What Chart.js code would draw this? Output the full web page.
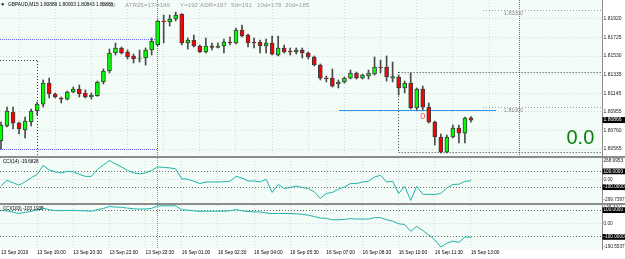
<!DOCTYPE html>
<html>
<head>
<meta charset="utf-8">
<title>GBPAUD,M15</title>
<script src="https://cdn.jsdelivr.net/npm/chart.js@4.4.1/dist/chart.umd.min.js"></script>
<style>
 html,body{margin:0;padding:0;background:#fff;overflow:hidden}
 #wrap{position:relative;width:625px;height:259px;background:#fff}
 canvas{position:absolute;left:0;display:block}
 .sep{position:absolute;left:0;width:625px;height:2px;background:#8c8c8c}
</style>
</head>
<body>
<div id="wrap">
 <canvas id="cMain" style="top:0;width:625px;height:156px" width="625" height="156"></canvas>
 <div class="sep" style="top:156px"></div>
 <canvas id="cC14" style="top:158px;width:625px;height:45px" width="625" height="45"></canvas>
 <div class="sep" style="top:203px"></div>
 <canvas id="cC100" style="top:205px;width:625px;height:54px" width="625" height="54"></canvas>
</div>
<script>
// ---------------- data ----------------
const symbolTitle = 'GBPAUD,M15 1.80889 1.80903 1.80843 1.80866';
const infoTexts = ['T=19', 'ATR25=17/=149', 'Y=192', 'ADR=187', '5d=191', '10d=179', '20d=185'];
const timeLabels = ['13 Sep 2019','13 Sep 19:00','13 Sep 20:30','13 Sep 22:00','13 Sep 23:30','16 Sep 01:00','16 Sep 02:30','16 Sep 04:00','16 Sep 05:30','16 Sep 07:00','16 Sep 08:30','16 Sep 10:00','16 Sep 11:30','16 Sep 13:00'];
const labelStep = 6; // candles between time labels

const open = [1.80652,1.80804,1.80949,1.80835,1.80763,1.80846,1.80963,1.81032,1.81250,1.81136,
1.81095,1.81084,1.81157,1.81188,1.81147,1.81105,1.81119,1.81261,1.81375,1.81562,
1.81614,1.81572,1.81531,1.81500,1.81510,1.81593,1.81645,1.81894,1.81884,1.81915,
1.81967,1.81666,1.81697,1.81635,1.81572,1.81635,1.81619,1.81635,1.81676,1.81666,
1.81801,1.81749,1.81676,1.81676,1.81635,1.81666,1.81541,1.81614,1.81583,1.81572,
1.81593,1.81562,1.81520,1.81437,1.81302,1.81302,1.81240,1.81261,1.81302,1.81354,
1.81302,1.81323,1.81344,1.81417,1.81417,1.81302,1.81313,1.81199,1.81250,1.80991,
1.81188,1.81001,1.80846,1.80690,1.80534,1.80690,1.80783,1.80731,1.80889];
const high = [1.80846,1.81001,1.81001,1.80846,1.80898,1.80981,1.81053,1.81282,1.81302,1.81147,
1.81105,1.81167,1.81209,1.81230,1.81178,1.81147,1.81271,1.81396,1.81603,1.81666,
1.81624,1.81593,1.81551,1.81593,1.81614,1.81718,1.81904,1.81956,1.81956,1.81987,
1.81970,1.81718,1.81749,1.81645,1.81718,1.81666,1.81666,1.81707,1.81728,1.81821,
1.81852,1.81759,1.81718,1.81697,1.81707,1.81738,1.81738,1.81645,1.81614,1.81614,
1.81614,1.81572,1.81531,1.81448,1.81323,1.81396,1.81282,1.81313,1.81385,1.81365,
1.81344,1.81385,1.81520,1.81489,1.81531,1.81468,1.81333,1.81271,1.81354,1.81199,
1.81219,1.81043,1.80856,1.80721,1.80711,1.80814,1.80814,1.80898,1.80903];
const low = [1.80565,1.80794,1.80773,1.80721,1.80680,1.80804,1.80918,1.81001,1.81095,1.81095,
1.81043,1.81074,1.81150,1.81105,1.81095,1.81084,1.81112,1.81240,1.81354,1.81541,
1.81551,1.81500,1.81458,1.81468,1.81437,1.81541,1.81635,1.81666,1.81842,1.81894,
1.81645,1.81603,1.81624,1.81565,1.81562,1.81593,1.81614,1.81562,1.81645,1.81655,
1.81728,1.81624,1.81614,1.81562,1.81562,1.81541,1.81531,1.81562,1.81541,1.81551,
1.81510,1.81500,1.81427,1.81282,1.81261,1.81209,1.81199,1.81250,1.81292,1.81292,
1.81292,1.81292,1.81333,1.81354,1.81271,1.81261,1.81126,1.81147,1.80981,1.80970,
1.80970,1.80835,1.80607,1.80524,1.80524,1.80680,1.80628,1.80628,1.80843];
const close = [1.80814,1.80960,1.80835,1.80773,1.80856,1.80960,1.81032,1.81250,1.81136,1.81105,
1.81084,1.81157,1.81188,1.81136,1.81105,1.81126,1.81261,1.81375,1.81562,1.81614,
1.81562,1.81520,1.81500,1.81505,1.81593,1.81686,1.81894,1.81887,1.81915,1.81956,
1.81666,1.81697,1.81635,1.81572,1.81635,1.81619,1.81635,1.81676,1.81666,1.81801,
1.81738,1.81666,1.81666,1.81635,1.81666,1.81551,1.81614,1.81572,1.81572,1.81593,
1.81562,1.81520,1.81437,1.81302,1.81296,1.81219,1.81261,1.81302,1.81354,1.81302,
1.81333,1.81354,1.81417,1.81411,1.81313,1.81318,1.81199,1.81250,1.80991,1.81188,
1.81001,1.80846,1.80690,1.80534,1.80690,1.80783,1.80731,1.80887,1.80866];

const cci14 = [-81,-12,-44,-75,-31,19,62,175,119,94,
81,100,94,62,37,37,125,181,237,194,
156,112,81,69,81,112,156,150,144,131,
6,0,-25,-54,-34,-34,-34,-31,-25,37,
16,-21,-21,-34,0,-166,-66,-116,-104,-84,
-104,-116,-159,-241,-179,-166,-125,-96,-54,-54,
-34,-25,29,50,-34,-25,-179,-88,-266,-88,
-188,-191,-191,-179,-109,-66,-62,-25,-19.6828];
const cci100 = [98,94,85,75,83,91,102,115,104,96,
96,98,98,96,95,92,103,113,127,123,
121,115,110,108,108,113,132,132,132,132,
102,100,95,91,92,92,92,92,95,104,
95,90,87,87,79,75,75,75,75,72,
69,62,52,41,38,28,28,31,36,33,
33,33,44,44,28,18,-2,-8,-59,-21,
-52,-85,-123,-175,-148,-131,-141,-100,-103.1935];

const priceTicks = [1.80565,1.80760,1.80955,1.81145,1.81335,1.81530,1.81725,1.81920];
const priceMin = 1.80493, priceMax = 1.82112;
const cci14Min = -299.7397, cci14Max = 268.9953;
const cci100Min = -190.5537, cci100Max = 138.3371;
const cciLevels = [-100, 0, 100];

// chart objects
const dayStartIdx = 26;          // day separator
const futureLineIdx = 86;        // vertical line right of the last bar
const prevDayHigh = 1.81697, prevDayLow = 1.80562;
const leftBoxIdx = 6, leftBoxTop = 1.81479;
const rangeBoxIdx = 66, rangeBoxHigh = 1.81363, rangeBoxLow = 1.80531;
const roundLevels = [1.82000, 1.81000], roundLevelIdx = 80, roundLabelIdx = 83.5;
const blueLevel = 1.80967, blueFromIdx = 56.1, blueToIdx = 82.2;
const arrowIdx = 70, arrowPrice = 1.80898, arrowText = '0';
const bigText = '0.0';

// ---------------- styling ----------------
const FONT = "'Liberation Sans', Arial, sans-serif";
const BG = '#f3fcf7';
const GRID = 'rgba(150,170,200,0.40)';
const UP = '#00ff00', DOWN = '#ff0000', OUTLINE = '#3c3c3c', WICK = '#4a4a4a';
const CCI_COLOR = '#20b2aa';
const AXIS_W = 23;
const X_MIN = -0.166, X_MAX = 99.75;
const N = open.length;
const idx = Array.from({length: N}, (_, i) => i);
const lastPrice = close[N - 1];

Chart.defaults.font.family = FONT;

function seg(ctx, x1, y1, x2, y2, color, dash, w) {
  ctx.save();
  ctx.strokeStyle = color; ctx.lineWidth = w || 1; ctx.setLineDash(dash || []);
  const r = v => Math.round(v - 0.5) + 0.5;
  ctx.beginPath();
  if (Math.abs(y1 - y2) < 0.01) { ctx.moveTo(x1, r(y1)); ctx.lineTo(x2, r(y2)); }
  else { ctx.moveTo(r(x1), y1); ctx.lineTo(r(x2), y2); }
  ctx.stroke(); ctx.restore();
}
function bgFill(c) {
  const {ctx, chartArea: a} = c;
  ctx.save(); ctx.fillStyle = BG; ctx.fillRect(a.left, a.top, a.right - a.left, a.bottom - a.top); ctx.restore();
}

function xAxis(showLabels) {
  return {
    type: 'linear', min: X_MIN, max: X_MAX, offset: false, bounds: 'data',
    afterBuildTicks(s) { s.ticks = timeLabels.map((t, k) => ({value: k * labelStep})); },
    afterFit(s) { s.height = showLabels ? 10 : 0; s.paddingLeft = 0; s.paddingRight = 0; s.paddingTop = 0; s.paddingBottom = 0; },
    grid: { color: c => c.index === 0 ? 'rgba(0,0,0,0)' : GRID, lineWidth: 1, drawTicks: false },
    border: { display: false, dash: [1, 2] },
    ticks: { display: showLabels, autoSkip: false, maxRotation: 0, minRotation: 0, align: 'start', padding: 1.5,
      font: {size: 4.8, family: FONT, lineHeight: 1}, color: '#000',
      callback: (v, i) => timeLabels[i] }
  };
}
function yAxis(cfg) {
  return {
    position: 'right', min: cfg.min, max: cfg.max, bounds: 'data',
    afterBuildTicks(s) { s.ticks = cfg.ticks.map(v => ({value: v})); },
    afterFit(s) { s.width = AXIS_W; s.paddingTop = 0; s.paddingBottom = 0; s.paddingLeft = 0; s.paddingRight = 0; },
    grid: { color: c => cfg.gridColor(c.index), lineWidth: 1, drawTicks: false },
    border: { display: true, color: '#8c8c8c', width: 1, dash: [1, 2] },
    ticks: { autoSkip: false, padding: 1.5, font: {size: cfg.size, family: FONT, lineHeight: 1},
      color: c => cfg.boxed(c.index) ? '#ffffff' : '#1a1a1a',
      showLabelBackdrop: c => cfg.boxed(c.index),
      backdropColor: '#000000', backdropPadding: {top: 0.5, bottom: 0.5, left: 1, right: 4},
      callback: (v, i) => cfg.label(v, i) }
  };
}
function common(scales) {
  return { responsive: false, animation: false, devicePixelRatio: 1, events: [],
    layout: { padding: 0 },
    plugins: { legend: {display: false}, tooltip: {enabled: false}, title: {display: false} },
    scales };
}

// ---------------- main price pane ----------------
const mainTickVals = priceTicks.concat([lastPrice]).sort((a, b) => a - b);
const mainDeco = {
  id: 'mainDeco',
  beforeDraw: bgFill,
  beforeDatasetsDraw(c) {
    const {ctx, chartArea: a, scales: {x, y}} = c;
    const X = v => x.getPixelForValue(v), Y = v => y.getPixelForValue(v);
    const blue = '#6464ff', blk = '#3a3a3a', gry = '#a0a0a0';
    seg(ctx, a.left, Y(prevDayHigh), X(dayStartIdx), Y(prevDayHigh), blue, [1, 1]);
    seg(ctx, a.left, Y(prevDayLow), X(dayStartIdx), Y(prevDayLow), blue, [1, 1]);
    seg(ctx, X(dayStartIdx) - 0.6, a.top, X(dayStartIdx) - 0.6, a.bottom, blue, [1, 1]);
    seg(ctx, X(futureLineIdx), a.top, X(futureLineIdx), a.bottom, blue, [1, 1]);
    seg(ctx, a.left, Y(leftBoxTop), X(leftBoxIdx), Y(leftBoxTop), blk, [1, 2]);
    seg(ctx, X(leftBoxIdx), Y(leftBoxTop), X(leftBoxIdx), a.bottom, blk, [1, 2]);
    seg(ctx, X(rangeBoxIdx), Y(rangeBoxHigh), a.right, Y(rangeBoxHigh), blk, [1, 2]);
    seg(ctx, X(rangeBoxIdx), Y(rangeBoxLow), a.right, Y(rangeBoxLow), blk, [1, 2]);
    seg(ctx, X(rangeBoxIdx), Y(rangeBoxHigh), X(rangeBoxIdx), Y(rangeBoxLow), blk, [1, 2]);
    roundLevels.forEach(p => seg(ctx, X(roundLevelIdx), Y(p), a.right, Y(p), gry, [1, 2]));
    seg(ctx, X(blueFromIdx), Y(blueLevel), X(blueToIdx), Y(blueLevel), '#3196e8', [], 1);
  },
  afterDraw(c) {
    const {ctx, chartArea: a, scales: {x, y}} = c;
    const X = v => x.getPixelForValue(v), Y = v => y.getPixelForValue(v);
    ctx.save();
    ctx.textBaseline = 'middle'; ctx.textAlign = 'left';
    // round level labels
    ctx.font = '5.2px ' + FONT; ctx.fillStyle = '#8a8a8a';
    roundLevels.forEach(p => ctx.fillText(p.toFixed(5), X(roundLabelIdx), Y(p) + 3));
    // arrow label
    ctx.font = '9px ' + FONT; ctx.fillStyle = '#ff4a4a'; ctx.textAlign = 'center';
    ctx.fillText(arrowText, X(arrowIdx), Y(arrowPrice));
    // big value
    ctx.textAlign = 'left'; ctx.textBaseline = 'alphabetic';
    ctx.font = '20px ' + FONT; ctx.fillStyle = '#0c800c';
    ctx.fillText(bigText, a.right - 35.5, 144);
    // title
    ctx.fillStyle = '#000';
    ctx.beginPath(); ctx.moveTo(1, 3.4); ctx.lineTo(4.4, 3.4); ctx.lineTo(2.7, 5.8); ctx.closePath(); ctx.fill();
    ctx.textBaseline = 'middle';
    ctx.font = '6.2px ' + FONT; ctx.fillStyle = '#9c9c9c';
    const infoX = [101, 125, 180, 200, 231, 257, 285];
    infoTexts.forEach((t, k) => ctx.fillText(t, infoX[k], 4.8));
    ctx.font = '4.8px ' + FONT; ctx.fillStyle = '#000';
    ctx.fillText(symbolTitle, 8, 4.8);
    ctx.restore();
  }
};

new Chart(document.getElementById('cMain'), {
  type: 'bar',
  data: { datasets: [
    { label: 'wick', data: idx.map(i => ({x: i, y: [low[i], high[i]]})), backgroundColor: WICK,
      barThickness: 1, grouped: false, order: 2 },
    { label: 'body', data: idx.map(i => ({x: i, y: [open[i], close[i]]})),
      backgroundColor: idx.map(i => close[i] >= open[i] ? UP : DOWN),
      borderColor: OUTLINE, borderWidth: 1, borderSkipped: false, barThickness: 4, grouped: false, order: 1 }
  ]},
  options: common({
    x: xAxis(false),
    y: yAxis({ min: priceMin, max: priceMax, ticks: mainTickVals, size: 5,
      label: v => v.toFixed(5),
      boxed: i => mainTickVals[i] === lastPrice,
      gridColor: i => mainTickVals[i] === lastPrice ? 'rgba(0,0,0,0)' : GRID })
  }),
  plugins: [mainDeco]
});

// ---------------- CCI panes ----------------
function cciTicks(min, max, inset) {
  const r = max - min;
  return [min + inset * r].concat(cciLevels, [max - inset * r]);
}
function cciLabel(min, max) {
  return (v, i) => i === 0 ? min.toFixed(4) : (i === cciLevels.length + 1 ? max.toFixed(4) : (v === 0 ? '0.00' : v.toFixed(4)));
}
function cciGrid(ticks) {
  return i => { const v = ticks[i]; return (v === 100 || v === -100) ? '#6a6a6a' : (v === 0 ? GRID : 'rgba(0,0,0,0)'); };
}
function subDeco(title) {
  return {
    id: 'subDeco',
    beforeDraw: bgFill,
    beforeDatasetsDraw(c) {
      const {ctx, chartArea: a, scales: {x}} = c;
      seg(ctx, x.getPixelForValue(dayStartIdx) - 0.6, a.top, x.getPixelForValue(dayStartIdx) - 0.6, a.bottom, '#8a8aff', [1, 1]);
    },
    afterDraw(c) {
      const {ctx, chartArea: a} = c;
      ctx.save(); ctx.font = '4.6px ' + FONT; ctx.fillStyle = '#000'; ctx.textBaseline = 'middle';
      ctx.fillText(title, a.left + 3, a.top + 3.4); ctx.restore();
    }
  };
}
function cciChart(id, values, min, max, inset, name, showX) {
  const t = cciTicks(min, max, inset);
  new Chart(document.getElementById(id), {
    type: 'line',
    data: { datasets: [{ data: idx.map(i => ({x: i, y: values[i]})), borderColor: CCI_COLOR, borderWidth: 1,
      pointRadius: 0, tension: 0, fill: false }] },
    options: common({
      x: xAxis(showX),
      y: yAxis({ min, max, ticks: t, size: 4.7, label: cciLabel(min, max),
        boxed: i => Math.abs(t[i]) === 100, gridColor: cciGrid(t) })
    }),
    plugins: [subDeco(name + ' ' + values[values.length - 1].toFixed(4))]
  });
}
cciChart('cC14', cci14, cci14Min, cci14Max, 0.07, 'CCI(14)', false);
cciChart('cC100', cci100, cci100Min, cci100Max, 0.045, 'CCI(100)', true);
</script>
</body>
</html>
